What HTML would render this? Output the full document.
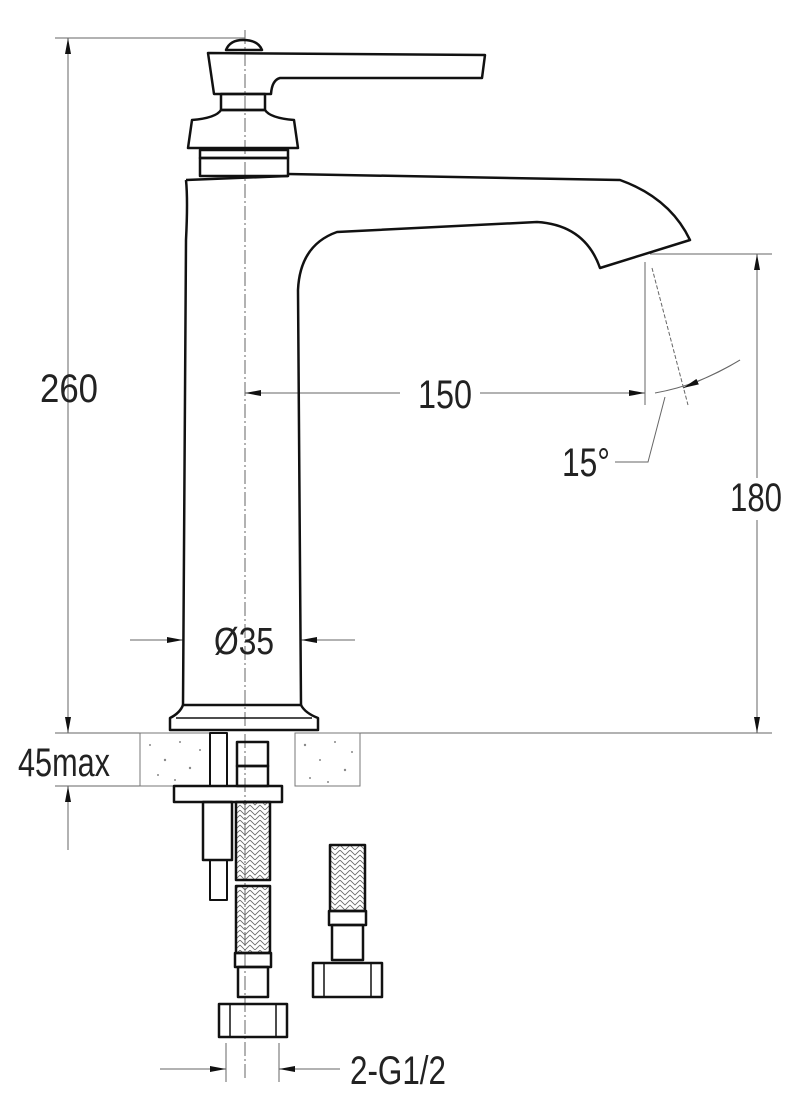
<!DOCTYPE html>
<html><head><meta charset="utf-8"><style>html,body{margin:0;padding:0;background:#fff}svg{display:block}text{font-family:"Liberation Sans",sans-serif;fill:#222}</style></head><body>
<svg width="800" height="1117" viewBox="0 0 800 1117" xmlns="http://www.w3.org/2000/svg">
<defs>
<marker id="a" viewBox="0 0 16 6" refX="16" refY="3" markerWidth="16" markerHeight="6" markerUnits="userSpaceOnUse" orient="auto"><path d="M0,0 L16,3 L0,6z" fill="#111"/></marker>
<pattern id="br" width="10" height="10" patternUnits="userSpaceOnUse"><path d="M0,0 L5,5 L10,0 M0,5 L5,10 L10,5" stroke="#666" stroke-width="0.8" fill="none"/></pattern>
</defs>
<g stroke="#666" stroke-width="1" fill="none">
<line x1="245" y1="30" x2="245" y2="1080" stroke-dasharray="14,3,2,3"/>
<line x1="55" y1="38" x2="245" y2="38"/>
<line x1="55" y1="733" x2="140" y2="733"/>
<line x1="360" y1="733" x2="772" y2="733"/>
<line x1="55" y1="786" x2="140" y2="786"/>
<line x1="650" y1="254" x2="772" y2="254"/>
<line x1="645" y1="262" x2="645" y2="405"/>
<line x1="652" y1="268" x2="688" y2="405" stroke-dasharray="4,2"/>
<path d="M655,393 Q700,385 740,360"/>
<path d="M665,397 L648,462 L615,462"/>
<line x1="226" y1="1043" x2="226" y2="1082"/>
<line x1="279" y1="1043" x2="279" y2="1082"/>
<line x1="68" y1="720" x2="68" y2="38" marker-end="url(#a)"/>
<line x1="68" y1="60" x2="68" y2="733" marker-end="url(#a)"/>
<line x1="68" y1="850" x2="68" y2="786" marker-end="url(#a)"/>
<line x1="757" y1="480" x2="757" y2="254" marker-end="url(#a)"/>
<line x1="757" y1="520" x2="757" y2="733" marker-end="url(#a)"/>
<line x1="400" y1="393" x2="245" y2="393" marker-end="url(#a)"/>
<line x1="480" y1="393" x2="645" y2="393" marker-end="url(#a)"/>
<path d="M740,360 Q720,372 683,388" marker-end="url(#a)"/>
<line x1="130" y1="640" x2="183" y2="640" marker-end="url(#a)"/>
<line x1="355" y1="640" x2="301" y2="640" marker-end="url(#a)"/>
<line x1="160" y1="1069" x2="226" y2="1069" marker-end="url(#a)"/>
<line x1="340" y1="1069" x2="279" y2="1069" marker-end="url(#a)"/>
</g>
<g stroke="#777" stroke-width="1" fill="#fff">
<rect x="140" y="733" width="70" height="53"/>
<rect x="295" y="733" width="65" height="53"/>
</g>
<g fill="#888">
<circle cx="150" cy="745" r="1"/><circle cx="165" cy="760" r="1.2"/><circle cx="180" cy="742" r="1"/><circle cx="158" cy="775" r="1"/><circle cx="190" cy="768" r="1.2"/><circle cx="200" cy="750" r="1"/><circle cx="175" cy="780" r="1"/>
<circle cx="305" cy="745" r="1.2"/><circle cx="320" cy="760" r="1"/><circle cx="335" cy="742" r="1"/><circle cx="345" cy="770" r="1.2"/><circle cx="310" cy="778" r="1"/><circle cx="352" cy="752" r="1"/><circle cx="328" cy="782" r="1"/>
</g>
<g stroke="#111" stroke-width="2.5" fill="none" stroke-linejoin="round">
<path d="M226,50 Q230,40 243,40 Q258,40 262,50 Z"/>
<path d="M208,53 L485,55 L482,78 L280,78 Q272,80 271,94 L214,94 Z"/>
<rect x="221" y="94" width="44" height="16"/>
<path d="M221,110 L265,110 Q270,118 294,120 L298,148 L188,148 L192,120 Q216,118 221,110 Z"/>
<rect x="200" y="150" width="88" height="8"/>
<rect x="200" y="158" width="88" height="18"/>
<path d="M288,174 L620,180 Q670,198 690,240 L600,268 Q585,225 537,222 L337,232 Q300,245 298,290 L301,705"/>
<path d="M186,180 L288,176"/>
<path d="M186,180 Q188,200 186,240 L183,705"/>
<path d="M183,705 L301,705 Q305,713 318,718 L318,730 L170,730 L170,718 Q180,713 183,705"/>
<line x1="176" y1="718" x2="312" y2="718" stroke-width="1.5"/>
<rect x="210" y="733" width="17" height="53" stroke-width="2"/>
<rect x="174" y="786" width="108" height="16"/>
<rect x="203" y="802" width="29" height="58"/>
<rect x="210" y="860" width="17" height="40" stroke-width="2"/>
<rect x="237" y="742" width="31" height="24"/>
<rect x="237" y="766" width="31" height="20"/>
<rect x="236" y="802" width="34" height="78" fill="url(#br)"/>
<rect x="236" y="886" width="34" height="67" fill="url(#br)"/>
<rect x="235" y="953" width="36" height="14"/>
<rect x="238" y="967" width="30" height="30"/>
<rect x="219" y="1004" width="68" height="33"/>
<line x1="230" y1="1004" x2="230" y2="1037" stroke-width="1.5"/>
<line x1="276" y1="1004" x2="276" y2="1037" stroke-width="1.5"/>
<rect x="330" y="845" width="35" height="66" fill="url(#br)"/>
<rect x="329" y="911" width="37" height="14"/>
<rect x="332" y="925" width="31" height="35"/>
<rect x="313" y="963" width="69" height="34"/>
<line x1="324" y1="963" x2="324" y2="997" stroke-width="1.5"/>
<line x1="371" y1="963" x2="371" y2="997" stroke-width="1.5"/>
</g>
<text x="40" y="402" font-size="40" textLength="58" lengthAdjust="spacingAndGlyphs">260</text>
<text x="18" y="776" font-size="40" textLength="92" lengthAdjust="spacingAndGlyphs">45max</text>
<rect x="728" y="478" width="56" height="38" fill="#fff"/>
<text x="730" y="511" font-size="40" textLength="52" lengthAdjust="spacingAndGlyphs">180</text>
<text x="418" y="408" font-size="40" textLength="54" lengthAdjust="spacingAndGlyphs">150</text>
<text x="562" y="476" font-size="40" textLength="48" lengthAdjust="spacingAndGlyphs">15°</text>
<text x="214" y="654" font-size="38" textLength="60" lengthAdjust="spacingAndGlyphs">Ø35</text>
<text x="350" y="1084" font-size="40" textLength="96" lengthAdjust="spacingAndGlyphs">2-G1/2</text>
</svg>
</body></html>
